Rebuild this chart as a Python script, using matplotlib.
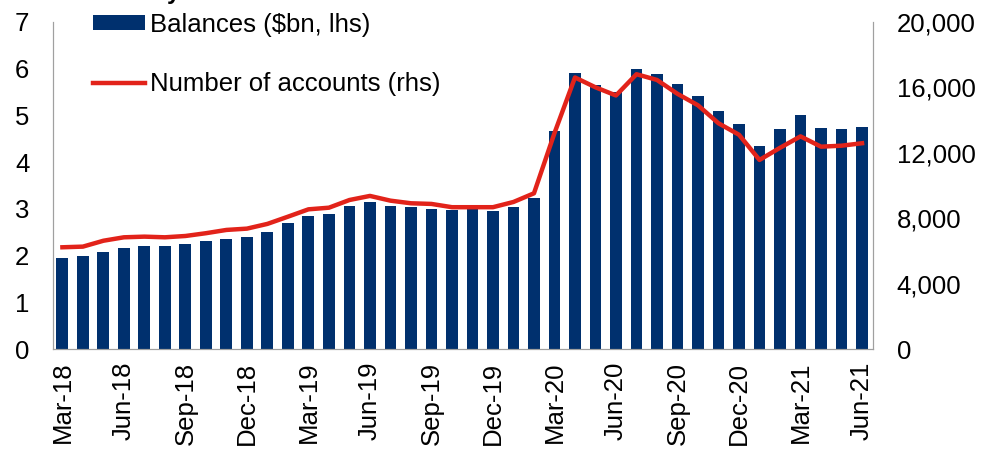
import matplotlib
matplotlib.use('Agg')
import matplotlib.pyplot as plt
from matplotlib.ticker import FuncFormatter

plt.rcParams['font.family'] = ['Liberation Sans', 'DejaVu Sans']

# monthly data Mar-18 .. Jun-21
months = ['Mar-18', 'Apr-18', 'May-18', 'Jun-18', 'Jul-18', 'Aug-18', 'Sep-18', 'Oct-18', 'Nov-18', 'Dec-18',
          'Jan-19', 'Feb-19', 'Mar-19', 'Apr-19', 'May-19', 'Jun-19', 'Jul-19', 'Aug-19', 'Sep-19', 'Oct-19',
          'Nov-19', 'Dec-19', 'Jan-20', 'Feb-20', 'Mar-20', 'Apr-20', 'May-20', 'Jun-20', 'Jul-20', 'Aug-20',
          'Sep-20', 'Oct-20', 'Nov-20', 'Dec-20', 'Jan-21', 'Feb-21', 'Mar-21', 'Apr-21', 'May-21', 'Jun-21']

balances = [1.94, 1.98, 2.08, 2.16, 2.21, 2.21, 2.25, 2.32, 2.36, 2.40,
            2.51, 2.69, 2.85, 2.88, 3.06, 3.15, 3.06, 3.03, 3.00, 2.98,
            2.99, 2.96, 3.04, 3.23, 4.66, 5.91, 5.64, 5.50, 6.00, 5.89,
            5.67, 5.42, 5.10, 4.81, 4.35, 4.71, 5.00, 4.73, 4.70, 4.75]

accounts = [6220, 6260, 6620, 6830, 6870, 6830, 6910, 7080, 7280, 7360,
            7650, 8090, 8540, 8640, 9110, 9360, 9070, 8910, 8870, 8670,
            8670, 8670, 8990, 9520, 13200, 16600, 16000, 15500, 16800, 16450,
            15600, 14900, 13800, 13100, 11560, 12300, 13000, 12370, 12430, 12580]

x = list(range(len(months)))
fs = 18.5

fig = plt.figure(figsize=(9.81, 4.5), dpi=100)
ax = fig.add_axes([0.054, 0.2244, 0.836, 0.727])
ax2 = ax.twinx()

bars = ax.bar(x, balances, width=0.58, color='#00306E', label='Balances ($bn, lhs)', zorder=2)
line, = ax2.plot(x, accounts, color='#E2231A', lw=3.2, label='Number of accounts (rhs)', zorder=3)

ax.set_xlim(-0.46, 39.54)
ax.set_ylim(0, 7)
ax2.set_ylim(0, 20000)
ax.set_yticks(range(0, 8))
ax2.set_yticks(range(0, 20001, 4000))
ax2.yaxis.set_major_formatter(FuncFormatter(lambda v, p: f'{int(v):,}'))

ax.set_xticks(x[::3])
ax.set_xticklabels(months[::3], rotation=90)

for a in (ax, ax2):
    a.tick_params(length=0, labelsize=fs)
    a.spines['top'].set_visible(False)
    for s in ('left', 'right', 'bottom'):
        a.spines[s].set_color('#A0A0A0')
ax.tick_params(axis='x', pad=9)
ax.tick_params(axis='y', pad=17)
ax2.tick_params(axis='y', pad=17)

ax.legend([bars, line], [bars.get_label(), line.get_label()], loc='upper left',
          bbox_to_anchor=(0.0207, 1.099), frameon=False, fontsize=fs,
          handlelength=2.02, handleheight=0.5, labelspacing=1.39, handletextpad=0.2)

# cut-off title remnant at the top edge (as in the source image)
fig.text(0.170, 1.003, 'y', fontsize=17, fontweight='bold', ha='left', va='baseline')

fig.savefig('out.png', dpi=100)
